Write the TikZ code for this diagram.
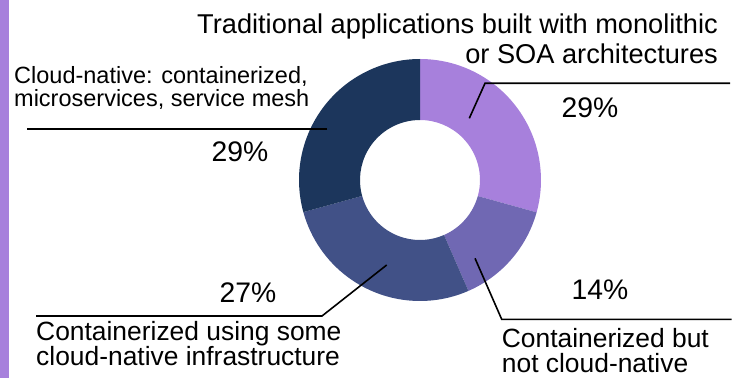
\documentclass[tikz,border=0pt]{standalone}
\usepackage{fontspec}
\setmainfont{Liberation Sans}
\definecolor{cTrad}{HTML}{A780DC}
\definecolor{cNot}{HTML}{7068B3}
\definecolor{cSome}{HTML}{415187}
\definecolor{cNative}{HTML}{1C365C}
\begin{document}
\begin{tikzpicture}[x=1pt, y=1pt, lbl/.style = {inner sep=0pt, align=left, font=\fontsize{26.4}{25}\selectfont}, pct/.style = {inner sep=0pt, font=\fontsize{28.3}{30}\selectfont}, lead/.style = {line width=1.6pt}]
        \useasboundingbox (0, 0) rectangle (739, 378);
        \fill[cTrad] (0, 0) rectangle (8.5, 378);

        % donut, centre (420, 198)
        \fill[cTrad, shift={(420, 198)}] (90:121pt) arc[start angle=90, end angle=-15.5, radius=121pt] -- (-15.5:60pt) arc[start angle=-15.5, end angle=90, radius=60pt] -- cycle;
        \fill[cNot, shift={(420, 198)}] (-15.5:121pt) arc[start angle=-15.5, end angle=-66.4, radius=121pt] -- (-66.4:60pt) arc[start angle=-66.4, end angle=-15.5, radius=60pt] -- cycle;
        \fill[cSome, shift={(420, 198)}] (-66.4:121pt) arc[start angle=-66.4, end angle=-164.6, radius=121pt] -- (-164.6:60pt) arc[start angle=-164.6, end angle=-66.4, radius=60pt] -- cycle;
        \fill[cNative, shift={(420, 198)}] (-164.6:121pt) arc[start angle=-164.6, end angle=-270, radius=121pt] -- (-270:60pt) arc[start angle=-270, end angle=-164.6, radius=60pt] -- cycle;

        \draw (718, 339.5) node[lbl, anchor=east, align=right, font=\fontsize{27.2}{30}\selectfont] (trad) {Traditional applications built with monolithic\\or SOA architectures};
        \draw (14, 290) node[lbl, anchor=west, font=\fontsize{23.5}{23}\selectfont] (native) {Cloud-native: containerized,\\microservices, service mesh};
        \draw (36, 34) node[lbl, anchor=west] (some) {Containerized using some\\cloud-native infrastructure};
        \draw (501.7, 27.5) node[lbl, anchor=west] (notcn) {Containerized but\\not cloud-native};

        \draw (590, 270) node[pct] (pTrad) {29\%};
        \draw (240, 226) node[pct] (pNative) {29\%};
        \draw (248, 85) node[pct] (pSome) {27\%};
        \draw (600, 88) node[pct] (pNot) {14\%};

        \coordinate (tradA) at (469.3, 259.7);
        \coordinate (tradB) at (485, 294.7);
        \coordinate (tradC) at (730, 294.7);
        \coordinate (nativeA) at (327, 249);
        \coordinate (nativeB) at (27, 249);
        \coordinate (someA) at (386.7, 113);
        \coordinate (someB) at (322, 62);
        \coordinate (someC) at (36, 62);
        \coordinate (notA) at (475, 119.7);
        \coordinate (notB) at (501.7, 58.7);
        \coordinate (notC) at (731.7, 58.7);

        \draw[lead] (tradA) -- (tradB) -- (tradC);
        \draw[lead] (nativeA) -- (nativeB);
        \draw[lead] (someA) -- (someB) -- (someC);
        \draw[lead] (notA) -- (notB) -- (notC);
      \end{tikzpicture}
\end{document}
